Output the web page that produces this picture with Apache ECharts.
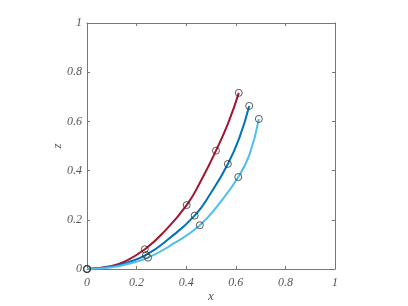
<!DOCTYPE html>
<html><head><meta charset="utf-8">
<script src="https://cdn.jsdelivr.net/npm/echarts@6/dist/echarts.min.js"></script>
<style>html,body{margin:0;padding:0;background:#fff}#c{width:408px;height:306px}</style>
</head><body><div id="c"></div>
<script>
var tickValues = [0, 0.2, 0.4, 0.6, 0.8, 1];
var seriesNames = ['red', 'blue', 'lightblue'];
// marked points (circles)
var redX = [0, 0.233, 0.402, 0.520, 0.612];
var redZ = [0, 0.080, 0.260, 0.481, 0.716];
var blueX = [0, 0.238, 0.434, 0.568, 0.654];
var blueZ = [0, 0.057, 0.217, 0.427, 0.663];
var lightX = [0, 0.246, 0.455, 0.610, 0.693];
var lightZ = [0, 0.046, 0.178, 0.374, 0.610];
// curve points
var redCurveX = [0, 0.10, 0.16, 0.233, 0.30, 0.402, 0.46, 0.520, 0.57, 0.612];
var redCurveZ = [0, 0.012, 0.034, 0.080, 0.140, 0.260, 0.360, 0.481, 0.595, 0.716];
var blueCurveX = [0, 0.10, 0.16, 0.238, 0.33, 0.434, 0.50, 0.568, 0.615, 0.654];
var blueCurveZ = [0, 0.009, 0.025, 0.057, 0.123, 0.217, 0.310, 0.427, 0.535, 0.663];
var lightCurveX = [0, 0.10, 0.16, 0.246, 0.35, 0.455, 0.535, 0.610, 0.655, 0.693];
var lightCurveZ = [0, 0.007, 0.019, 0.046, 0.104, 0.178, 0.268, 0.374, 0.465, 0.610];
var colors = ['#A2142F', '#0072BD', '#4DBEEE'];

function pairs(xs, zs){ return xs.map(function(x,i){return [x, zs[i]];}); }
var marks = [pairs(redX, redZ), pairs(blueX, blueZ), pairs(lightX, lightZ)];
var curves = [pairs(redCurveX, redCurveZ), pairs(blueCurveX, blueCurveZ), pairs(lightCurveX, lightCurveZ)];

var fontStyle = {fontFamily: 'Liberation Serif', fontStyle: 'italic', fontSize: 12, color: '#555'};
function mkX(pos, labels){
  return {type:'value', min:0, max:1, interval:0.2, position:pos,
    axisLine:{show:true, onZero:false, lineStyle:{color:'#777', width:1}},
    axisTick:{show:true, inside:true, length:3, lineStyle:{color:'#777'}},
    axisLabel: labels ? Object.assign({margin:8}, fontStyle) : {show:false},
    splitLine:{show:false},
    name: labels ? 'x' : '', nameLocation:'middle', nameGap:21, nameMoveOverlap:false,
    nameTextStyle: Object.assign({}, fontStyle, {fontSize:13})};
}
function mkY(pos, labels){
  return {type:'value', min:0, max:1, interval:0.2, position:pos,
    axisLine:{show:true, onZero:false, lineStyle:{color:'#777', width:1}},
    axisTick:{show:true, inside:true, length:3, lineStyle:{color:'#777'}},
    axisLabel: labels ? Object.assign({margin:5}, fontStyle) : {show:false},
    splitLine:{show:false},
    name: labels ? 'z' : '', nameLocation:'middle', nameGap:23, nameRotate:90, nameMoveOverlap:false,
    nameTextStyle: Object.assign({}, fontStyle, {fontSize:13})};
}
var series = [];
curves.forEach(function(d, i){
  series.push({type:'line', name:seriesNames[i], data:d, smooth:0.5, showSymbol:false, silent:true,
    lineStyle:{color:colors[i], width:2}, z:2});
});
marks.forEach(function(d, i){
  series.push({type:'scatter', data:d, symbol:'circle', symbolSize:7,
    itemStyle:{color:'rgba(0,0,0,0)', borderColor:'#333', borderWidth:1}, z:3});
});
var chart = echarts.init(document.getElementById('c'), null, {renderer:'canvas'});
chart.setOption({
  animation:false,
  backgroundColor:'#fff',
  grid:{left:87, top:23, width:248, height:246, containLabel:false, outerBoundsMode:'none'},
  xAxis:[mkX('bottom', true), mkX('top', false)],
  yAxis:[mkY('left', true), mkY('right', false)],
  series: series
});
</script></body></html>
